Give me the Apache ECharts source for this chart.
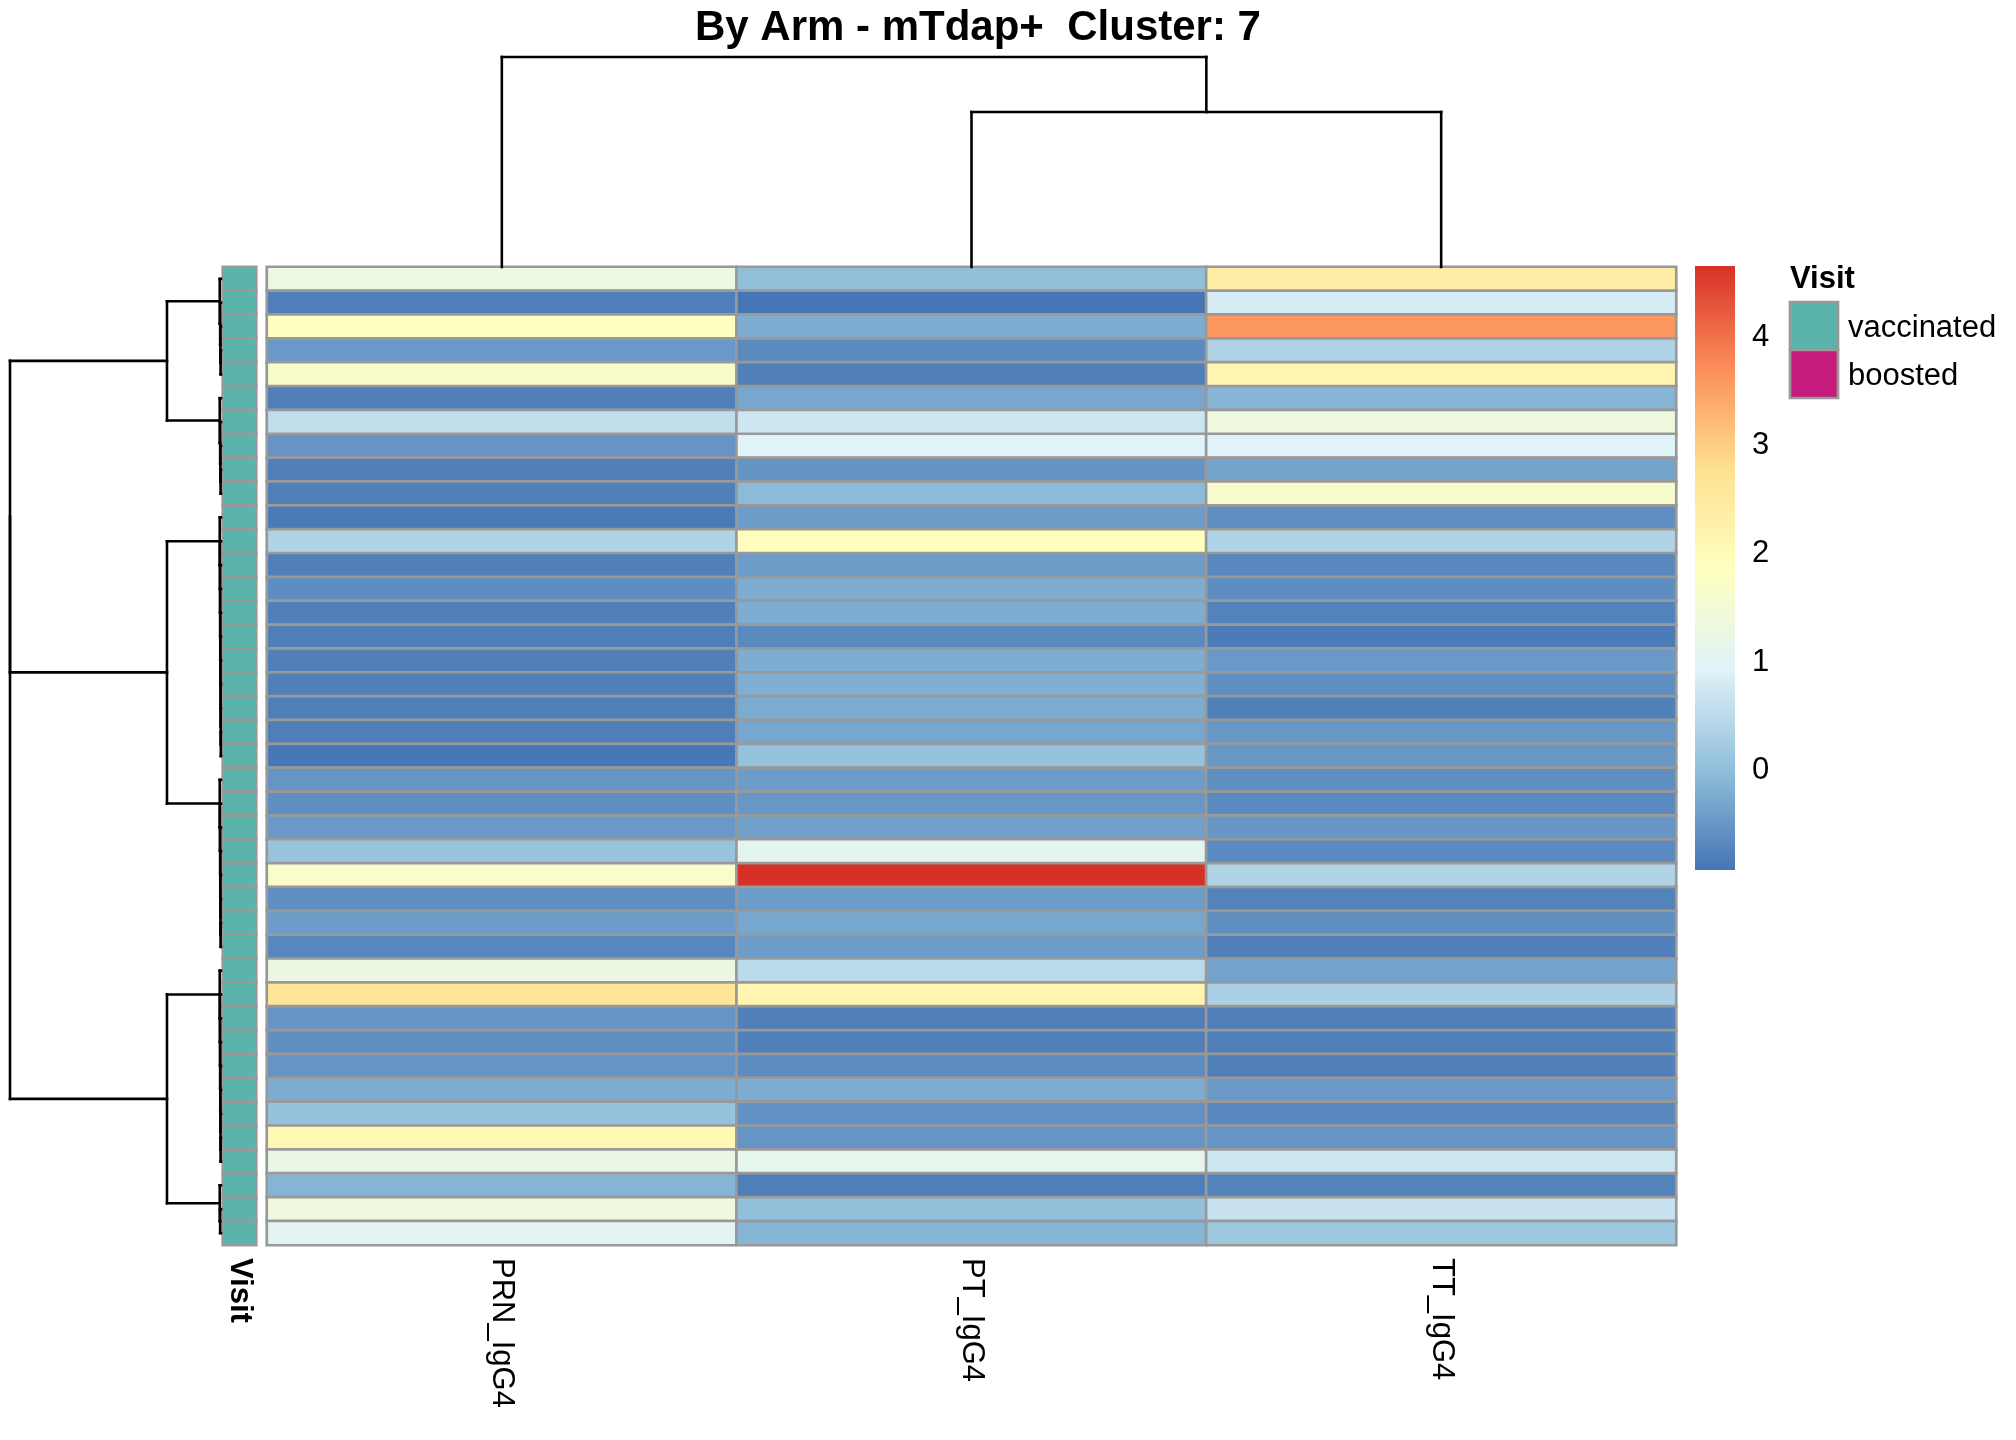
<!DOCTYPE html>
<html>
<head>
<meta charset="utf-8">
<script src="https://cdn.jsdelivr.net/npm/echarts@6/dist/echarts.min.js"></script>
<style>
  html, body { margin: 0; padding: 0; background: #fff; }
  #chart { width: 2016px; height: 1440px; }
</style>
</head>
<body>
<div id="chart"></div>
<script>
// column order as in the reference (after clustering)
const columns = ['PRN_IgG4', 'PT_IgG4', 'TT_IgG4'];

// scaled values per row, top to bottom
const prn = [1.30, -0.79, 1.87, -0.47, 1.67, -0.79, 0.56, -0.52, -0.79, -0.79,
  -0.86, 0.37, -0.79, -0.61, -0.79, -0.80, -0.79, -0.79, -0.80, -0.80,
  -0.90, -0.52, -0.60, -0.47, 0.09, 1.71, -0.60, -0.43, -0.70, 1.28,
  2.65, -0.52, -0.60, -0.52, -0.22, 0.06, 2.08, 1.23, -0.13, 1.37, 1.04];
const pt = [0.02, -0.92, -0.22, -0.65, -0.79, -0.30, 0.72, 0.94, -0.53, -0.05,
  -0.43, 1.90, -0.43, -0.22, -0.22, -0.65, -0.22, -0.19, -0.23, -0.31,
  0.06, -0.43, -0.49, -0.38, 1.07, 4.66, -0.43, -0.31, -0.43, 0.49,
  2.17, -0.79, -0.79, -0.63, -0.22, -0.57, -0.52, 1.15, -0.80, 0.02, -0.12];
const tt = [2.40, 0.82, 3.63, 0.37, 2.17, -0.12, 1.37, 0.94, -0.34, 1.66,
  -0.60, 0.37, -0.68, -0.61, -0.75, -0.83, -0.47, -0.60, -0.79, -0.49,
  -0.49, -0.60, -0.66, -0.50, -0.66, 0.37, -0.75, -0.60, -0.79, -0.35,
  0.32, -0.79, -0.79, -0.79, -0.47, -0.68, -0.52, 0.72, -0.75, 0.66, 0.16];

// row annotation
const visit = [
  'vaccinated', 'vaccinated', 'vaccinated', 'vaccinated', 'vaccinated', 'vaccinated', 'vaccinated',
  'vaccinated', 'vaccinated', 'vaccinated', 'vaccinated', 'vaccinated', 'vaccinated', 'vaccinated',
  'vaccinated', 'vaccinated', 'vaccinated', 'vaccinated', 'vaccinated', 'vaccinated', 'vaccinated',
  'vaccinated', 'vaccinated', 'vaccinated', 'vaccinated', 'vaccinated', 'vaccinated', 'vaccinated',
  'vaccinated', 'vaccinated', 'vaccinated', 'vaccinated', 'vaccinated', 'vaccinated', 'vaccinated',
  'vaccinated', 'vaccinated', 'vaccinated', 'vaccinated', 'vaccinated', 'vaccinated'];
const visitLevels = ['vaccinated', 'boosted'];
const visitColors = ['#5AB4AC', '#C51B7D'];

// colour scale
const valueMin = -0.92;
const valueMax = 4.66;
const colorTicks = [0, 1, 2, 3, 4];
const palette = ['#4575B4', '#91BFDB', '#E0F3F8', '#FFFFBF', '#FEE090', '#FC8D59', '#D73027'];

// hclust style merges: negative = leaf number, positive = earlier merge; [a, b, height]
const colMerge = [[-2, -3, 0.738], [-1, 1, 1]];
const rowMerge = [
  [-4, -5, 0.002], [-3, 1, 0.003], [-2, 2, 0.004], [-1, 3, 0.006],
  [-9, -10, 0.002], [-8, 5, 0.003], [-7, 6, 0.004], [-6, 7, 0.006],
  [4, 8, 0.256],
  [-20, -21, 0.001], [-19, 10, 0.0015], [-18, 11, 0.002], [-17, 12, 0.0025], [-16, 13, 0.003],
  [-15, 14, 0.0035], [-14, 15, 0.004], [-13, 16, 0.0045], [-12, 17, 0.005], [-11, 18, 0.006],
  [-28, -29, 0.002], [-27, 20, 0.0025], [-26, 21, 0.003], [-25, 22, 0.0035], [-24, 23, 0.004],
  [-23, 24, 0.005], [-22, 25, 0.006],
  [19, 26, 0.256],
  [-37, -38, 0.002], [-36, 28, 0.0025], [-35, 29, 0.003], [-34, 30, 0.0035], [-33, 31, 0.004],
  [-32, 32, 0.0045], [-31, 33, 0.005], [-30, 34, 0.006],
  [-40, -41, 0.004], [-39, 36, 0.006],
  [35, 37, 0.256],
  [9, 27, 1], [39, 38, 1]
];

const FONT = 'Liberation Sans, Arial, sans-serif';
const rows = prn.map((_, i) => String(i + 1));

const heatData = [];
[prn, pt, tt].forEach((col, c) => col.forEach((v, r) => heatData.push([c, r, v])));

const annotData = visit.map((v, r) => ({
  value: [0, r, visitLevels.indexOf(v)],
  itemStyle: { color: visitColors[visitLevels.indexOf(v)] }
}));

// turn merges into line segments [pos1, h1, pos2, h2], dropping zero-length ones
function dendroSegments(merge) {
  const pos = [], ht = [], segs = [];
  const get = k => (k < 0 ? [-k - 1, 0] : [pos[k - 1], ht[k - 1]]);
  const add = s => { if (s[0] !== s[2] || s[1] !== s[3]) segs.push(s); };
  merge.forEach(([a, b, h]) => {
    const [pa, ha] = get(a);
    const [pb, hb] = get(b);
    add([pa, ha, pa, h]);
    add([pa, h, pb, h]);
    add([pb, h, pb, hb]);
    pos.push((pa + pb) / 2);
    ht.push(h);
  });
  return segs;
}

function lineItem(p1, p2) {
  return {
    type: 'line',
    shape: { x1: p1[0], y1: p1[1], x2: p2[0], y2: p2[1] },
    style: { stroke: '#000', lineWidth: 2.6, lineCap: 'square' }
  };
}

const hidden = { show: false };
const chart = echarts.init(document.getElementById('chart'));

chart.setOption({
  animation: false,
  backgroundColor: '#fff',
  textStyle: { fontFamily: FONT },
  title: {
    text: 'By Arm - mTdap+  Cluster: 7',
    left: 690, top: 2,
    textStyle: { fontFamily: FONT, fontSize: 42, fontWeight: 'bold', color: '#000' }
  },
  grid: [
    { left: 267, top: 267, width: 1409, height: 978 },   // heatmap
    { left: 223, top: 267, width: 33, height: 978 },     // annotation
    { left: 10, top: 267, width: 211, height: 978 },     // row dendrogram
    { left: 267, top: 57, width: 1409, height: 210 },    // column dendrogram
    { left: 1695, top: 266, width: 40, height: 604 }     // colour bar
  ],
  xAxis: [
    {
      gridIndex: 0, type: 'category', data: columns, position: 'bottom',
      axisLine: hidden, axisTick: hidden, splitLine: hidden,
      axisLabel: { rotate: -90, margin: 13, fontSize: 31, color: '#000', fontFamily: FONT }
    },
    {
      gridIndex: 1, type: 'category', data: ['Visit'], position: 'bottom',
      axisLine: hidden, axisTick: hidden,
      axisLabel: { rotate: -90, margin: 13, fontSize: 31, fontWeight: 'bold', color: '#000', fontFamily: FONT }
    },
    { gridIndex: 2, type: 'value', min: 0, max: 1, inverse: true, show: false },
    { gridIndex: 3, type: 'value', min: -0.5, max: 2.5, show: false },
    { gridIndex: 4, type: 'category', data: [''], show: false }
  ],
  yAxis: [
    { gridIndex: 0, type: 'category', data: rows, inverse: true, show: false },
    { gridIndex: 1, type: 'category', data: rows, inverse: true, show: false },
    { gridIndex: 2, type: 'value', min: -0.5, max: rows.length - 0.5, inverse: true, show: false },
    { gridIndex: 3, type: 'value', min: 0, max: 1, show: false },
    {
      gridIndex: 4, type: 'value', min: valueMin, max: valueMax, position: 'right',
      axisLine: hidden, axisTick: hidden, splitLine: hidden,
      axisLabel: { customValues: colorTicks, margin: 17, fontSize: 31, color: '#000', fontFamily: FONT }
    }
  ],
  visualMap: {
    show: false, seriesIndex: 0, min: valueMin, max: valueMax,
    inRange: { color: palette }
  },
  series: [
    {
      type: 'heatmap', xAxisIndex: 0, yAxisIndex: 0, data: heatData,
      itemStyle: { borderColor: '#999999', borderWidth: 2.7 },
      emphasis: { disabled: true }
    },
    {
      type: 'heatmap', xAxisIndex: 1, yAxisIndex: 1, data: annotData,
      itemStyle: { borderColor: '#999999', borderWidth: 2.7 },
      emphasis: { disabled: true }
    },
    {
      type: 'custom', xAxisIndex: 2, yAxisIndex: 2, data: dendroSegments(rowMerge),
      renderItem: (params, api) => lineItem(
        api.coord([api.value(1), api.value(0)]),
        api.coord([api.value(3), api.value(2)]))
    },
    {
      type: 'custom', xAxisIndex: 3, yAxisIndex: 3, data: dendroSegments(colMerge),
      renderItem: (params, api) => lineItem(
        api.coord([api.value(0), api.value(1)]),
        api.coord([api.value(2), api.value(3)]))
    },
    {
      type: 'custom', xAxisIndex: 4, yAxisIndex: 4, data: [[0, valueMin, valueMax]],
      renderItem: (params, api) => {
        const top = api.coord([0, api.value(2)]);
        const bottom = api.coord([0, api.value(1)]);
        const w = api.size([1, 0])[0];
        return {
          type: 'rect',
          shape: { x: top[0] - w / 2, y: top[1], width: w, height: bottom[1] - top[1] },
          style: {
            fill: new echarts.graphic.LinearGradient(0, 1, 0, 0,
              palette.map((c, i) => ({ offset: i / (palette.length - 1), color: c })))
          }
        };
      }
    }
  ],
  graphic: [
    { type: 'text', left: 1790, top: 264, style: { text: 'Visit', fontSize: 31, fontWeight: 'bold', fill: '#000', fontFamily: FONT } },
    { type: 'rect', shape: { x: 1790, y: 302, width: 48, height: 48 }, style: { fill: visitColors[0], stroke: '#999999', lineWidth: 2.7 } },
    { type: 'rect', shape: { x: 1790, y: 350, width: 48, height: 48 }, style: { fill: visitColors[1], stroke: '#999999', lineWidth: 2.7 } },
    { type: 'text', x: 1848, y: 328, style: { text: visitLevels[0], fontSize: 31, fill: '#000', fontFamily: FONT, verticalAlign: 'middle' } },
    { type: 'text', x: 1848, y: 376, style: { text: visitLevels[1], fontSize: 31, fill: '#000', fontFamily: FONT, verticalAlign: 'middle' } }
  ]
});

window.addEventListener('resize', () => chart.resize());
</script>
</body>
</html>
